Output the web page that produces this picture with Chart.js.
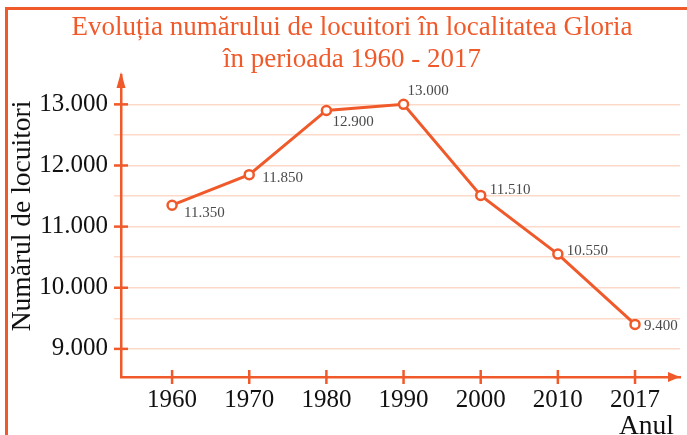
<!DOCTYPE html>
<html lang="ro">
<head>
<meta charset="utf-8">
<title>Evoluția numărului de locuitori</title>
<script src="https://cdn.jsdelivr.net/npm/chart.js@4.4.1/dist/chart.umd.min.js"></script>
<style>
  html, body { margin: 0; padding: 0; background: #fff; }
  #wrap { width: 687px; height: 435px; position: relative; }
</style>
</head>
<body>
<div id="wrap"><canvas id="grafic"></canvas></div>
<script>
// date
const ani = ['1960', '1970', '1980', '1990', '2000', '2010', '2017'];
const locuitori = [11350, 11850, 12900, 13000, 11510, 10550, 9400];
const gradatiiY = [9000, 9500, 10000, 10500, 11000, 11500, 12000, 12500, 13000];
const titlu = ['Evoluția numărului de locuitori în localitatea Gloria', 'în perioada 1960 - 2017'];
const titluY = 'Numărul de locuitori';
const titluX = 'Anul';

// unde stau etichetele fata de puncte
const deplasari = [[12, 8], [13, 3], [6, 12], [4, -13], [9, -5], [9, -3], [9, 2]];

const PORTOCALIU = '#f05a2b';
const SERIF = "'Liberation Serif', 'Times New Roman', serif";

const formateaza = v => String(v).replace(/\B(?=(\d{3})+(?!\d))/g, '.');

const decor = {
    id: 'decor',
    beforeDraw(chart) {
        const ctx = chart.ctx;
        ctx.save();
        // rama
        ctx.strokeStyle = PORTOCALIU;
        ctx.lineWidth = 3;
        ctx.beginPath();
        ctx.moveTo(6.5, 435);
        ctx.lineTo(6.5, 8.5);
        ctx.lineTo(687, 8.5);
        ctx.stroke();

        // titlu
        ctx.fillStyle = PORTOCALIU;
        ctx.font = '27px ' + SERIF;
        ctx.textAlign = 'center';
        ctx.textBaseline = 'alphabetic';
        ctx.fillText(titlu[0], 352, 35);
        ctx.fillText(titlu[1], 352, 67);
        ctx.restore();
    },
    afterDatasetsDraw(chart) {
        const {ctx, chartArea: a, scales: {x, y}} = chart;
        ctx.save();
        ctx.strokeStyle = PORTOCALIU;
        ctx.fillStyle = PORTOCALIU;
        ctx.lineWidth = 2.5;

        // gradatii mari pe axe
        gradatiiY.filter(v => v % 1000 === 0).forEach(v => {
            const py = y.getPixelForValue(v);
            ctx.beginPath();
            ctx.moveTo(a.left - 7, py);
            ctx.lineTo(a.left + 7, py);
            ctx.stroke();
        });
        ani.forEach((_, i) => {
            const px = x.getPixelForValue(i);
            ctx.beginPath();
            ctx.moveTo(px, a.bottom - 7);
            ctx.lineTo(px, a.bottom + 7);
            ctx.stroke();
        });

        // sageti
        ctx.beginPath();
        ctx.moveTo(a.left, a.top - 3);
        ctx.lineTo(a.left - 4.5, a.top + 13);
        ctx.lineTo(a.left + 4.5, a.top + 13);
        ctx.closePath();
        ctx.fill();
        ctx.beginPath();
        ctx.moveTo(a.right, a.bottom);
        ctx.lineTo(a.right - 12, a.bottom - 5);
        ctx.lineTo(a.right - 12, a.bottom + 5);
        ctx.closePath();
        ctx.fill();

        // valori langa puncte
        const meta = chart.getDatasetMeta(0);
        ctx.fillStyle = '#4a4a4a';
        ctx.font = '15px ' + SERIF;
        ctx.textAlign = 'left';
        ctx.textBaseline = 'middle';
        meta.data.forEach((p, i) => {
            const [dx, dy] = deplasari[i];
            ctx.fillText(formateaza(locuitori[i]), p.x + dx, p.y + dy);
        });

        // titlurile axelor
        ctx.fillStyle = '#111';
        ctx.font = '27.5px ' + SERIF;
        ctx.textAlign = 'left';
        ctx.textBaseline = 'alphabetic';
        ctx.fillText(titluX, 619, 434);

        ctx.translate(30, 216);
        ctx.rotate(-Math.PI / 2);
        ctx.textAlign = 'center';
        ctx.fillText(titluY, 0, 0);
        ctx.restore();
    }
};

new Chart(document.getElementById('grafic'), {
    type: 'line',
    data: {
        datasets: [{
            data: locuitori.map((v, i) => ({ x: i, y: v })),
            borderColor: PORTOCALIU,
            borderWidth: 3,
            pointRadius: 4.5,
            pointBorderWidth: 2.5,
            pointBackgroundColor: '#fff',
            pointBorderColor: PORTOCALIU,
            tension: 0
        }]
    },
    options: {
        responsive: true,
        maintainAspectRatio: false,
        animation: false,
        events: [],
        layout: { padding: { top: 75, left: 0, right: 0, bottom: 0 } },
        plugins: { legend: { display: false }, title: { display: false }, tooltip: { enabled: false } },
        scales: {
            x: {
                type: 'linear',
                min: -0.662,
                max: 6.583,
                afterBuildTicks: s => { s.ticks = ani.map((_, i) => ({ value: i })); },
                afterFit: s => { s.height = 58; },
                grid: { display: true, drawOnChartArea: false, drawTicks: false },
                border: { color: PORTOCALIU, width: 2.5 },
                ticks: {
                    padding: 8,
                    color: '#111',
                    font: { family: SERIF, size: 25 },
                    callback: v => ani[v]
                }
            },
            y: {
                min: 8540,
                max: 13480,
                afterBuildTicks: s => { s.ticks = gradatiiY.map(v => ({ value: v })); },
                afterFit: s => { s.width = 121; },
                grid: { color: '#fcd9c8', lineWidth: 1.5, tickLength: 7 },
                border: { color: PORTOCALIU, width: 2.5 },
                ticks: {
                    padding: 6,
                    color: '#111',
                    font: { family: SERIF, size: 25 },
                    callback: v => (v % 1000 === 0 ? formateaza(v) : '')
                }
            }
        }
    },
    plugins: [decor]
});
</script>
</body>
</html>
